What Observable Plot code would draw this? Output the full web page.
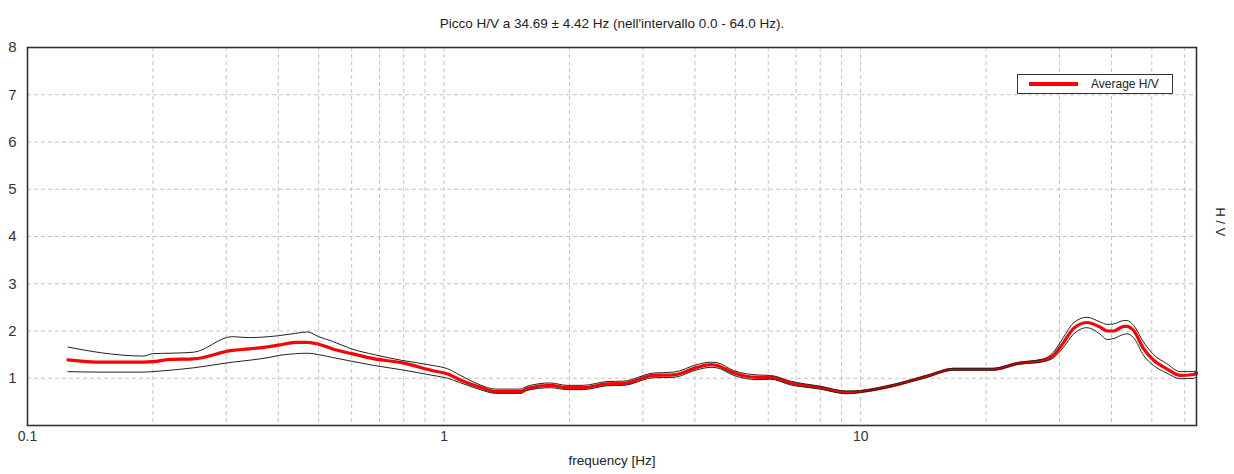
<!DOCTYPE html>
<html>
<head>
<meta charset="utf-8">
<script src="https://cdn.jsdelivr.net/npm/d3@7"></script>
<script src="https://cdn.jsdelivr.net/npm/@observablehq/plot@0.6"></script>
<style>
  html, body { margin: 0; padding: 0; background: #fff; }
  #wrap { position: relative; width: 1234px; height: 474px; font-family: "Liberation Sans", Arial, sans-serif; }
  #legend { position: absolute; left: 1017px; top: 74px; width: 154px; height: 18px; border: 1px solid #333; background: #fff; }
  #legend .sw { position: absolute; left: 11px; top: 7px; width: 49px; height: 4px; background: #ff0000; }
  #legend .lb { position: absolute; left: 73px; top: 2px; font-size: 12px; color: #222; }
</style>
</head>
<body>
<div id="wrap"></div>
<script>
const titleText = "Picco H/V a 34.69 ± 4.42 Hz (nell'intervallo 0.0 - 64.0 Hz).";
const xLabel = "frequency [Hz]";
const yLabel = "H / V";
const legendLabel = "Average H/V";

const freq =    [0.125,0.15,0.19,0.20,0.22,0.25,0.31,0.34,0.38,0.40,0.44,0.47,0.50,0.54,0.60,0.68,0.79,0.94,1.02,1.09,1.22,1.33,1.53,1.58,1.80,1.97,2.16,2.46,2.70,3.18,3.56,4.05,4.36,4.52,4.96,5.64,6.07,6.78,8.0,9.27,10.0,12.0,14.4,16.7,20.8,23.7,27.5,29.0,30.7,32.4,34.9,37.6,39.0,40.5,42.8,43.6,45.2,47.8,50.5,54.3,58.5,63.0,64.0];
const avgHV =   [1.39,1.34,1.34,1.35,1.40,1.41,1.59,1.62,1.67,1.70,1.76,1.76,1.72,1.62,1.52,1.41,1.33,1.16,1.09,0.97,0.81,0.72,0.72,0.78,0.85,0.80,0.80,0.88,0.89,1.06,1.07,1.23,1.29,1.27,1.11,1.02,1.02,0.90,0.80,0.70,0.72,0.85,1.04,1.19,1.19,1.31,1.38,1.48,1.76,2.05,2.18,2.08,2.00,2.00,2.10,2.10,2.01,1.62,1.38,1.20,1.06,1.08,1.11];
const upperHV = [1.66,1.54,1.47,1.52,1.53,1.55,1.88,1.86,1.88,1.90,1.95,1.98,1.88,1.78,1.62,1.50,1.38,1.27,1.20,1.07,0.86,0.77,0.77,0.83,0.90,0.85,0.85,0.93,0.94,1.11,1.13,1.29,1.34,1.33,1.16,1.07,1.06,0.94,0.83,0.73,0.74,0.87,1.06,1.21,1.21,1.33,1.41,1.55,1.87,2.17,2.29,2.19,2.14,2.15,2.22,2.22,2.12,1.76,1.50,1.31,1.14,1.14,1.16];
const lowerHV = [1.14,1.13,1.13,1.14,1.17,1.22,1.34,1.38,1.44,1.48,1.52,1.53,1.50,1.44,1.36,1.27,1.18,1.06,1.00,0.91,0.76,0.68,0.68,0.74,0.80,0.76,0.76,0.84,0.85,1.01,1.02,1.18,1.23,1.22,1.06,0.97,0.98,0.86,0.77,0.67,0.70,0.83,1.02,1.17,1.17,1.29,1.35,1.43,1.66,1.93,2.07,1.93,1.82,1.84,1.93,1.94,1.86,1.48,1.27,1.11,0.99,1.00,1.03];

const xTicks = [0.1, 1, 10];
const yTicks = [1, 2, 3, 4, 5, 6, 7, 8];
const xGrid = [0.2,0.3,0.4,0.5,0.6,0.7,0.8,0.9,1,2,3,4,5,6,7,8,9,10,20,30,40,50,60];
const yGrid = [1, 2, 3, 4, 5, 6, 7];

const rows = freq.map((f, i) => ({f, avg: avgHV[i], up: upperHV[i], lo: lowerHV[i]}));

const chart = Plot.plot({
  width: 1234,
  height: 474,
  marginLeft: 27,
  marginRight: 38,
  marginTop: 47,
  marginBottom: 49,
  style: {fontFamily: "'Liberation Sans', Arial, sans-serif", background: "#fff", color: "#333"},
  x: {type: "log", domain: [0.1, 64], ticks: xTicks, tickFormat: d => String(d), label: null, tickSize: 0, tickPadding: 6},
  y: {domain: [0, 8], ticks: yTicks, label: null, tickSize: 0, tickPadding: 11},
  marks: [
    Plot.ruleX(xGrid, {stroke: "#c4c4c4", strokeDasharray: "4,3", strokeWidth: 1}),
    Plot.ruleY(yGrid, {stroke: "#c4c4c4", strokeDasharray: "4,3", strokeWidth: 1}),
    Plot.line(rows, {x: "f", y: "avg", stroke: "#ff0000", strokeWidth: 3.2, curve: "monotone-x"}),
    Plot.line(rows, {x: "f", y: "up", stroke: "#222", strokeWidth: 1, curve: "monotone-x"}),
    Plot.line(rows, {x: "f", y: "lo", stroke: "#222", strokeWidth: 1, curve: "monotone-x"}),
    Plot.frame({stroke: "#333", strokeWidth: 1.6}),
    Plot.axisX({ticks: xTicks, tickFormat: d => String(d), tickSize: 0, tickPadding: 6, fontSize: 14, label: null}),
    Plot.axisY({ticks: yTicks, tickSize: 0, tickPadding: 11, fontSize: 15, label: null}),
    Plot.text([titleText], {text: d => d, frameAnchor: "top", dy: -29, fontSize: 13.5, fill: "#222"}),
    Plot.text([xLabel], {text: d => d, frameAnchor: "bottom", dy: 39, fontSize: 13.5, fill: "#222"}),
    Plot.text([yLabel], {text: d => d, frameAnchor: "right", dx: 24, rotate: 90, fontSize: 13, fill: "#222"})
  ]
});

const wrap = document.getElementById("wrap");
wrap.appendChild(chart);
const leg = document.createElement("div");
leg.id = "legend";
leg.innerHTML = '<div class="sw"></div><div class="lb"></div>';
leg.querySelector(".lb").textContent = legendLabel;
wrap.appendChild(leg);
</script>
</body>
</html>
